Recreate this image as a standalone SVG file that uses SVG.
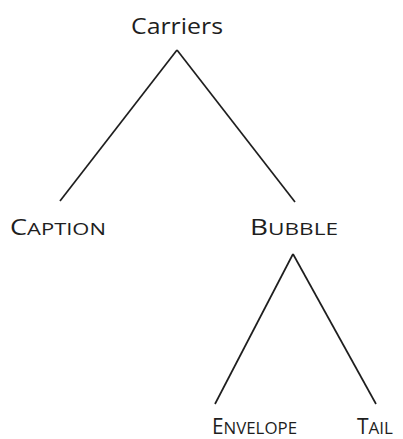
<svg xmlns="http://www.w3.org/2000/svg" width="403" height="439" viewBox="0 0 403 439">
<style>
text{font-family:"Open Sans","Liberation Sans",sans-serif;font-weight:500;fill:#1e1e1e;}
.big{font-size:21px;}
.sm{font-size:17px;}
line{stroke:#1e1e1e;stroke-width:1.7;}
</style>
<rect width="403" height="439" fill="#fff"/>
<g id="connectors">
<line x1="177" y1="50" x2="60" y2="201"/>
<line x1="177" y1="50" x2="295" y2="202"/>
<line x1="293" y1="254" x2="215" y2="404"/>
<line x1="293" y1="254" x2="376" y2="404"/>
</g>
<g id="carriers"><text x="131" y="34" font-size="22" textLength="92" lengthAdjust="spacingAndGlyphs">Carriers</text></g>
<g id="caption"><text x="10" y="235" textLength="96" lengthAdjust="spacingAndGlyphs"><tspan class="big">C</tspan><tspan class="sm">APTION</tspan></text></g>
<g id="bubble"><text x="250" y="235" textLength="88" lengthAdjust="spacingAndGlyphs"><tspan class="big">B</tspan><tspan class="sm">UBBLE</tspan></text></g>
<g id="envelope"><text x="212" y="434" textLength="85" lengthAdjust="spacingAndGlyphs"><tspan class="big">E</tspan><tspan class="sm">NVELOPE</tspan></text></g>
<g id="tail"><text x="357" y="434" textLength="36" lengthAdjust="spacingAndGlyphs"><tspan class="big">T</tspan><tspan class="sm">AIL</tspan></text></g>
</svg>
